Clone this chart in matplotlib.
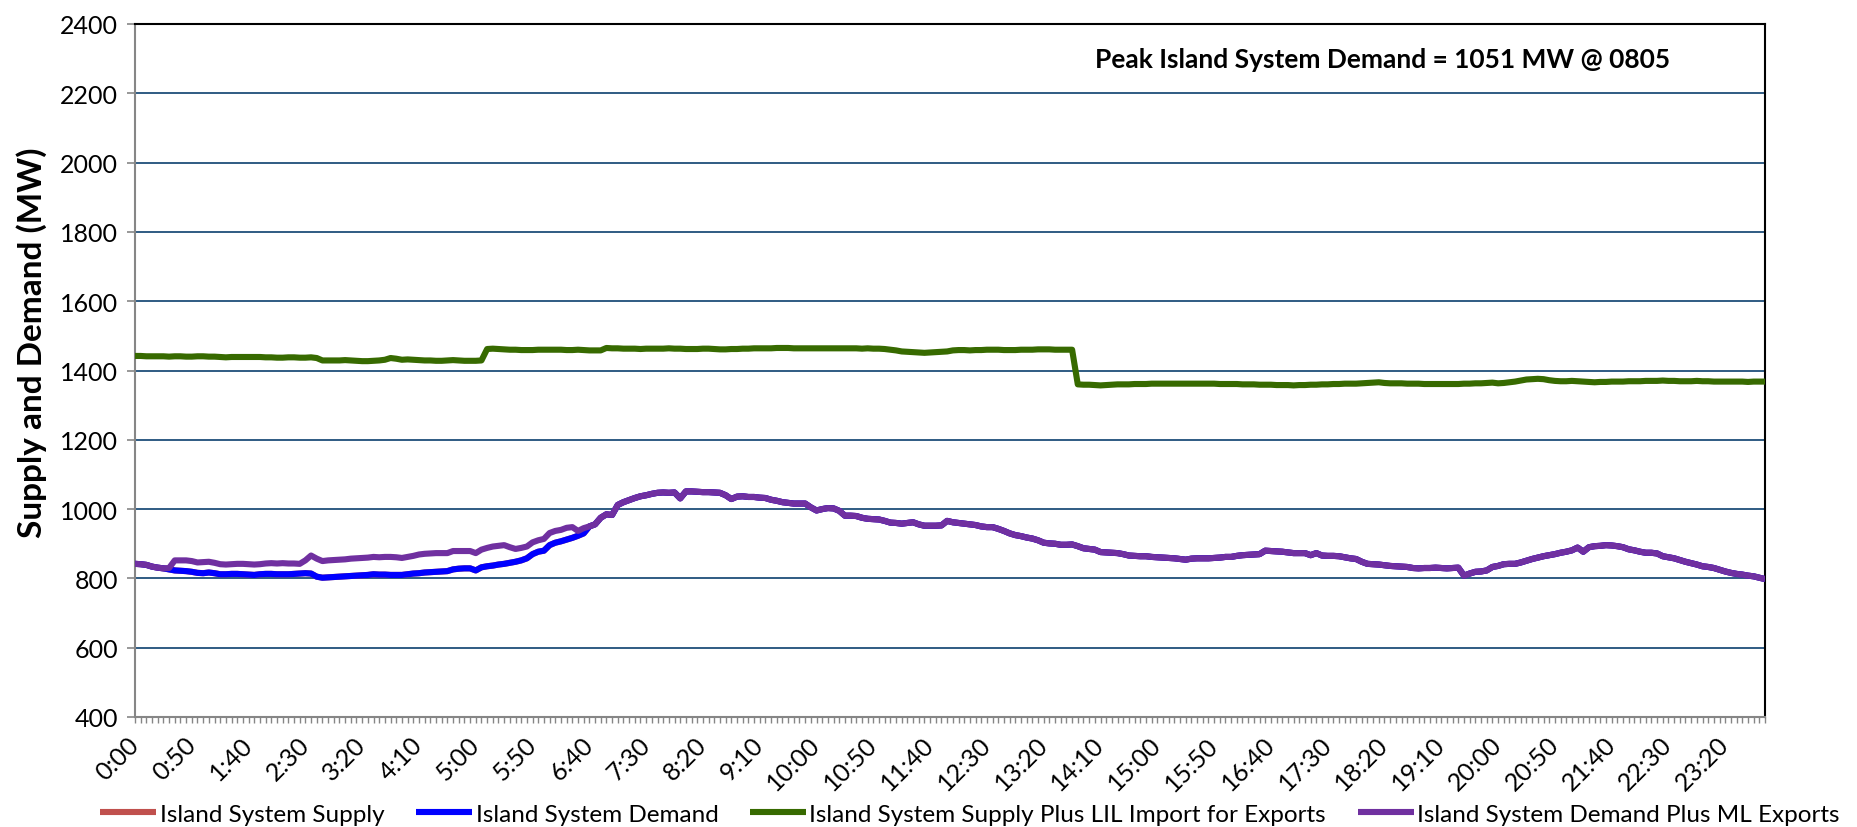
import matplotlib
matplotlib.use("Agg")
import matplotlib.pyplot as plt
from matplotlib.ticker import MultipleLocator, FixedLocator
from matplotlib import font_manager

# ---------------- data (5-minute intervals, 0:00 .. 23:55) ----------------
times = [f"{(k * 5) // 60}:{(k * 5) % 60:02d}" for k in range(288)]

demand_plus_ml = [
    842, 841, 839, 834, 831, 829, 830, 852, 852, 852, 850, 846,
    847, 848, 845, 841, 840, 841, 842, 842, 841, 840, 841, 843,
    844, 843, 844, 843, 843, 842, 852, 866, 857, 850, 852, 853,
    854, 855, 857, 858, 859, 860, 862, 861, 862, 862, 861, 859,
    862, 865, 869, 871, 872, 873, 873, 873, 879, 879, 879, 879,
    873, 883, 888, 892, 894, 896, 890, 885, 888, 892, 904, 910,
    914, 931, 937, 940, 946, 948, 937, 945, 950, 956, 975, 985,
    983, 1012, 1020, 1026, 1032, 1037, 1040, 1044, 1047, 1048, 1047, 1048,
    1031, 1051, 1051, 1050, 1049, 1049, 1048, 1047, 1040, 1029, 1036, 1037,
    1035, 1035, 1033, 1032, 1027, 1024, 1020, 1018, 1016, 1016, 1016, 1005,
    996, 1000, 1003, 1002, 995, 981, 981, 980, 975, 972, 971, 970,
    966, 961, 960, 958, 960, 962, 956, 952, 952, 952, 953, 966,
    962, 960, 958, 956, 954, 950, 948, 948, 943, 937, 930, 925,
    922, 918, 915, 910, 903, 901, 900, 897, 897, 898, 893, 887,
    885, 883, 876, 875, 874, 873, 870, 866, 865, 864, 864, 862,
    861, 860, 859, 858, 856, 854, 857, 858, 858, 858, 859, 860,
    862, 862, 865, 867, 868, 869, 870, 880, 879, 878, 877, 875,
    873, 873, 873, 867, 873, 866, 865, 865, 864, 861, 858, 856,
    848, 842, 841, 840, 838, 836, 835, 834, 833, 830, 829, 830,
    830, 831, 830, 829, 830, 831, 808, 814, 819, 820, 823, 833,
    836, 841, 842, 842, 846, 851, 856, 860, 864, 867, 870, 874,
    877, 881, 889, 877, 890, 893, 894, 896, 895, 893, 890, 884,
    881, 877, 874, 874, 872, 864, 861, 858, 853, 848, 844, 840,
    835, 833, 830, 825, 820, 816, 813, 811, 808, 806, 802, 798,
]

island_demand = [
    842, 841, 839, 834, 831, 829, 826, 823, 822, 821, 819, 816,
    815, 817, 815, 812, 812, 813, 813, 812, 811, 810, 812, 813,
    813, 812, 812, 812, 813, 814, 815, 814, 805, 802, 803, 804,
    805, 806, 807, 808, 809, 810, 812, 811, 811, 810, 810, 810,
    812, 814, 815, 817, 818, 819, 820, 821, 826, 828, 829, 829,
    823, 832, 835, 837, 840, 842, 845, 848, 852, 858, 870, 877,
    880, 896, 903, 907, 912, 917, 923, 930, 950, 956, 975, 985,
    983, 1012, 1020, 1026, 1032, 1037, 1040, 1044, 1047, 1048, 1047, 1048,
    1031, 1051, 1051, 1050, 1049, 1049, 1048, 1047, 1040, 1029, 1036, 1037,
    1035, 1035, 1033, 1032, 1027, 1024, 1020, 1018, 1016, 1016, 1016, 1005,
    996, 1000, 1003, 1002, 995, 981, 981, 980, 975, 972, 971, 970,
    966, 961, 960, 958, 960, 962, 956, 952, 952, 952, 953, 966,
    962, 960, 958, 956, 954, 950, 948, 948, 943, 937, 930, 925,
    922, 918, 915, 910, 903, 901, 900, 897, 897, 898, 893, 887,
    885, 883, 876, 875, 874, 873, 870, 866, 865, 864, 864, 862,
    861, 860, 859, 858, 856, 854, 857, 858, 858, 858, 859, 860,
    862, 862, 865, 867, 868, 869, 870, 880, 879, 878, 877, 875,
    873, 873, 873, 867, 873, 866, 865, 865, 864, 861, 858, 856,
    848, 842, 841, 840, 838, 836, 835, 834, 833, 830, 829, 830,
    830, 831, 830, 829, 830, 831, 808, 814, 819, 820, 823, 833,
    836, 841, 842, 842, 846, 851, 856, 860, 864, 867, 870, 874,
    877, 881, 889, 877, 890, 893, 894, 896, 895, 893, 890, 884,
    881, 877, 874, 874, 872, 864, 861, 858, 853, 848, 844, 840,
    835, 833, 830, 825, 820, 816, 813, 811, 808, 806, 802, 798,
]

# Island supply matches island demand (drawn underneath, hidden)
island_supply = list(island_demand)

supply_plus_lil = [
    1442, 1442, 1441, 1441, 1441, 1441, 1440, 1441, 1441, 1440, 1440, 1441,
    1441, 1440, 1440, 1439, 1438, 1439, 1439, 1439, 1439, 1439, 1439, 1438,
    1438, 1437, 1437, 1438, 1438, 1437, 1437, 1438, 1436, 1429, 1429, 1429,
    1429, 1430, 1429, 1428, 1427, 1427, 1428, 1429, 1431, 1436, 1434, 1431,
    1432, 1431, 1430, 1429, 1429, 1428, 1428, 1429, 1430, 1429, 1428, 1428,
    1428, 1429, 1462, 1463, 1462, 1461, 1460, 1460, 1459, 1459, 1459, 1460,
    1460, 1460, 1460, 1460, 1459, 1459, 1460, 1459, 1458, 1458, 1458, 1465,
    1464, 1464, 1463, 1463, 1463, 1462, 1463, 1463, 1463, 1463, 1464, 1463,
    1463, 1462, 1462, 1462, 1463, 1463, 1462, 1461, 1461, 1462, 1462, 1463,
    1463, 1464, 1464, 1464, 1464, 1465, 1465, 1465, 1464, 1464, 1464, 1464,
    1464, 1464, 1464, 1464, 1464, 1464, 1464, 1464, 1463, 1464, 1463, 1463,
    1462, 1460, 1458, 1455, 1454, 1453, 1452, 1451, 1452, 1453, 1454, 1455,
    1458, 1459, 1459, 1458, 1459, 1459, 1460, 1460, 1460, 1459, 1459, 1459,
    1460, 1460, 1460, 1461, 1461, 1461, 1460, 1460, 1460, 1460, 1360, 1359,
    1359, 1358, 1357, 1358, 1359, 1360, 1360, 1360, 1361, 1361, 1361, 1362,
    1362, 1362, 1362, 1362, 1362, 1362, 1362, 1362, 1362, 1362, 1362, 1361,
    1361, 1361, 1361, 1360, 1360, 1360, 1359, 1359, 1359, 1358, 1358, 1358,
    1357, 1358, 1358, 1359, 1359, 1360, 1360, 1361, 1361, 1362, 1362, 1362,
    1363, 1364, 1365, 1366, 1364, 1363, 1363, 1363, 1362, 1362, 1362, 1361,
    1361, 1361, 1361, 1361, 1361, 1361, 1362, 1362, 1363, 1363, 1364, 1365,
    1363, 1364, 1366, 1368, 1371, 1374, 1375, 1376, 1375, 1372, 1370, 1369,
    1369, 1370, 1369, 1368, 1367, 1366, 1367, 1367, 1368, 1368, 1368, 1369,
    1369, 1369, 1370, 1370, 1370, 1371, 1370, 1370, 1369, 1369, 1369, 1370,
    1369, 1369, 1368, 1368, 1368, 1368, 1368, 1368, 1367, 1368, 1368, 1368,
]

series_names = [
    "Island System Supply",
    "Island System Demand",
    "Island System Supply Plus LIL Import for Exports",
    "Island System Demand Plus ML Exports",
]
series_colors = ["#C0504D", "#0000FF", "#376A00", "#7030A0"]
y_ticks = list(range(400, 2401, 200))
peak_text = "Peak Island System Demand = 1051 MW @ 0805"
y_label = "Supply and Demand (MW)"

# ---------------- fonts ----------------
avail = {f.name for f in font_manager.fontManager.ttflist}
base_font = "Lato" if "Lato" in avail else "DejaVu Sans"
plt.rcParams["font.family"] = [base_font, "DejaVu Sans"]

# ---------------- figure ----------------
W, H = 1857, 828
fig = plt.figure(figsize=(W / 100, H / 100), dpi=100)
ax = fig.add_axes([135 / W, (H - 718) / H, 1630 / W, 693 / H])

x = list(range(len(times)))
all_series = [island_supply, island_demand, supply_plus_lil, demand_plus_ml]
for vals, name, col in zip(all_series, series_names, series_colors):
    ax.plot(x, vals, color=col, lw=4.4, label=name, solid_joinstyle="round",
            solid_capstyle="butt", zorder=3)

ax.set_xlim(0, len(times) - 1)
ax.set_ylim(400, 2400)
ax.set_yticks(y_ticks)
ax.set_yticklabels([str(v) for v in y_ticks], fontsize=18)
ax.yaxis.grid(True, color="#1F4E79", lw=1.3)
ax.set_axisbelow(True)

major = x[::10]
ax.xaxis.set_major_locator(FixedLocator(major))
ax.xaxis.set_minor_locator(MultipleLocator(1))
ax.set_xticklabels([times[k] for k in major], rotation=45, ha="right",
                   va="center", rotation_mode="anchor", fontsize=18)

for side in ["left", "bottom"]:
    ax.spines[side].set_color("#868686")
    ax.spines[side].set_linewidth(1.5)
for side in ["top", "right"]:
    ax.spines[side].set_color("black")
    ax.spines[side].set_linewidth(1.5)

ax.tick_params(axis="y", which="major", length=6, width=1.2, color="#868686", pad=6)
ax.tick_params(axis="x", which="both", length=4, width=1.0, color="#868686", pad=13)

fig.text(32 / W, 1 - 343 / H, y_label, rotation=90, fontsize=24,
         fontweight="bold", ha="center", va="center")
ax.text(1095 / W, 1 - 60 / H, peak_text, transform=fig.transFigure,
        fontsize=19, fontweight="bold", ha="left", va="center")

leg = fig.legend(loc="center", bbox_to_anchor=(970 / W, 13 / H), ncol=4,
                 frameon=False, fontsize=17.5, handlelength=2.3,
                 handletextpad=0.15, columnspacing=1.3, borderaxespad=0)

fig.savefig("out.png", dpi=100)
